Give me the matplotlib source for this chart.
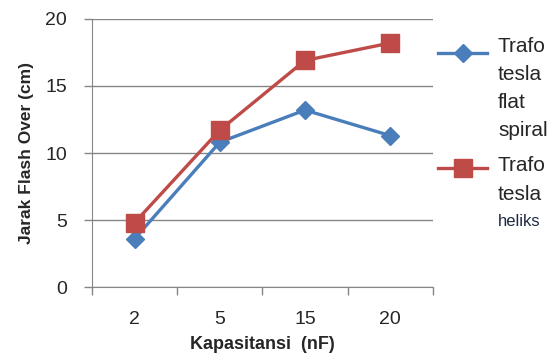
import matplotlib
matplotlib.use('Agg')
import matplotlib.pyplot as plt
from matplotlib.lines import Line2D

plt.rcParams['font.family'] = ['Liberation Sans', 'DejaVu Sans']

kapasitansi = ['2', '5', '15', '20']
flat_spiral = [3.6, 10.8, 13.2, 11.3]
heliks = [4.8, 11.7, 16.9, 18.2]

blue = '#4A7EBB'
red = '#BE4B48'
grey = '#868686'
txt = '#262626'

fig = plt.figure(figsize=(5.57, 3.63), dpi=100)
ax = fig.add_axes([0.165, 0.209, 0.612, 0.739])

x = list(range(len(kapasitansi)))
ax.plot(x, flat_spiral, color=blue, lw=2.4, marker='D', ms=9, zorder=3)
ax.plot(x, heliks, color=red, lw=2.4, marker='s', ms=13, zorder=4)

ax.set_xlim(-0.5, 3.5)
ax.set_ylim(0, 20)
ax.set_yticks([0, 5, 10, 15, 20])
ax.set_xticks(x)
ax.set_xticklabels(kapasitansi)
ax.set_xticks([-0.5, 0.5, 1.5, 2.5, 3.5], minor=True)
ax.tick_params(axis='x', which='major', length=0, pad=17, labelsize=14, labelcolor=txt)
ax.tick_params(axis='x', which='minor', length=6, color=grey, width=1)
ax.tick_params(axis='y', length=6, color=grey, width=1, pad=12, labelsize=14, labelcolor=txt)

ax.grid(axis='y', color=grey, lw=1)
ax.set_axisbelow(True)
for s in ['top', 'right']:
    ax.spines[s].set_visible(False)
for s in ['left', 'bottom']:
    ax.spines[s].set_color(grey)

ax.set_ylabel('Jarak Flash Over (cm)', fontsize=12.5, fontweight='bold', color=txt, labelpad=8)
ax.set_xlabel('Kapasitansi  (nF)', fontsize=13, fontweight='bold', color=txt, labelpad=6)

# legend drawn by hand (text wraps over several lines)
W, H = 557.0, 363.0
fig.add_artist(Line2D([438 / W, 487 / W], [1 - 53 / H, 1 - 53 / H], color=blue, lw=2.4))
fig.add_artist(Line2D([462.5 / W], [1 - 53 / H], color=blue, marker='D', ms=9, lw=0))
fig.add_artist(Line2D([438 / W, 487 / W], [1 - 168 / H, 1 - 168 / H], color=red, lw=2.4))
fig.add_artist(Line2D([462.5 / W], [1 - 168 / H], color=red, marker='s', ms=13, lw=0))

for i, t in enumerate(['Trafo', 'tesla', 'flat', 'spiral']):
    fig.text(498 / W, 1 - (47 + 28 * i) / H, t, fontsize=15, color=txt, va='center')
for i, t in enumerate(['Trafo', 'tesla']):
    fig.text(498 / W, 1 - (166 + 28.5 * i) / H, t, fontsize=15, color=txt, va='center')
fig.text(498 / W, 1 - 222 / H, 'heliks', fontsize=12, color='#1F2A44', va='center')

fig.savefig('out.png', dpi=100)
